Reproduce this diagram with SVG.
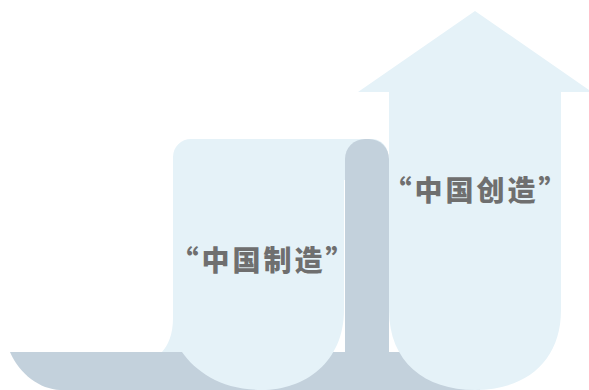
<svg xmlns="http://www.w3.org/2000/svg" width="589" height="390" viewBox="0 0 589 390">
<style>
.dark{fill:#c3d1dc}
.light{fill:#e5f2f8}
.label{font-family:"Noto Sans CJK SC","Noto Sans",sans-serif;font-weight:900;font-size:28px;fill:#6f6f6f;letter-spacing:3px;text-anchor:middle;dominant-baseline:central}
</style>
<rect width="589" height="390" fill="#ffffff"/>
<g id="ribbon-back">
<path class="dark" d="M10,352 H480 V390 H60 C40,389 20,375 10,352 Z"/>
</g>
<g id="node-made">
<path class="light" d="M173,157 A18,18 0 0 1 191,139 H372 A16,16 0 0 1 388,155 V180 H344 V310 C344,362 305,390 262,390 C222,390 196,372 182,352 H162 C168,345 173,335 173,318 Z"/>
<text class="label" x="263.5" y="259">“中国制造”</text>
</g>
<g id="ribbon-column">
<path class="dark" d="M345,159 A20,20 0 0 1 365,139 H369 A20,20 0 0 1 389,159 V390 H345 Z"/>
</g>
<g id="node-created">
<path class="light" d="M389,92 H358 L475,11 L592,92 H561 V310 C561,362 525,390 475,390 C425,390 389,362 389,310 Z"/>
<text class="label" x="476.5" y="188.5">“中国创造”</text>
</g>
<g id="connectors"></g>
</svg>
